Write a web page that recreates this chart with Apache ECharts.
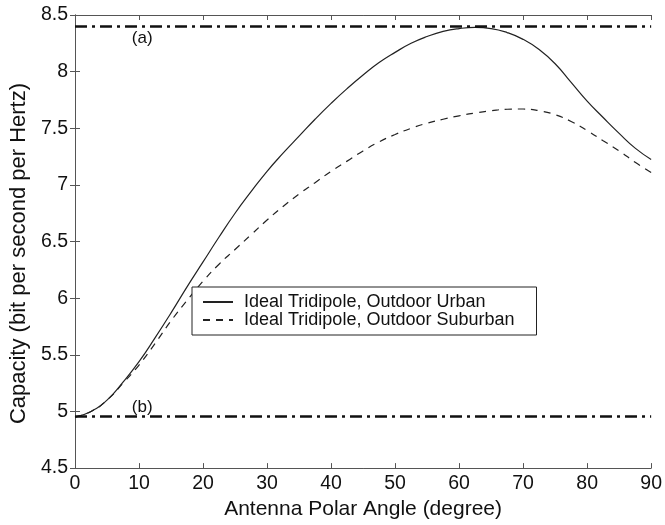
<!DOCTYPE html>
<html>
<head>
<meta charset="utf-8">
<script src="https://cdn.jsdelivr.net/npm/echarts@6/dist/echarts.min.js"></script>
<style>
  html, body { margin: 0; padding: 0; background: #fff; }
</style>
</head>
<body>
<div id="chart" style="width: 665px; height: 525px"></div>
<script>
// antenna polar angle (degree)
const angles = [0, 2.5, 5, 7.5, 10, 12.5, 15, 17.5, 20, 22.5, 25, 27.5, 30, 32.5, 35, 37.5, 40, 42.5, 45,
  47.5, 50, 52.5, 55, 57.5, 60, 62.5, 65, 67.5, 70, 72.5, 75, 77.5, 80, 82.5, 85, 87.5, 90]
// capacity
const urban = [4.95, 5.00, 5.10, 5.26, 5.44, 5.65, 5.87, 6.10, 6.32, 6.54, 6.75, 6.94, 7.12, 7.28, 7.43, 7.58, 7.72, 7.85, 7.97,
  8.08, 8.17, 8.25, 8.31, 8.355, 8.38, 8.39, 8.38, 8.345, 8.285, 8.195, 8.07, 7.905, 7.74, 7.595, 7.455, 7.325, 7.225]
const suburban = [4.95, 5.00, 5.10, 5.25, 5.41, 5.60, 5.80, 5.98, 6.15, 6.30, 6.43, 6.56, 6.69, 6.81, 6.92, 7.02, 7.12, 7.21, 7.30,
  7.38, 7.445, 7.50, 7.545, 7.58, 7.61, 7.635, 7.655, 7.668, 7.67, 7.655, 7.62, 7.56, 7.48, 7.39, 7.30, 7.20, 7.11]
// reference bounds (a) and (b)
const boundNames = ['(a)', '(b)']
const boundValues = [8.4, 4.955]
const boundLabelAngle = 10.5

const font = 'Liberation Sans, Arial, Helvetica, sans-serif'
const axisColor = '#555'
const lineColor = '#222'

const pairs = (ys) => angles.map((x, i) => [x, ys[i]])

const chart = echarts.init(document.getElementById('chart'))
const option = {
  animation: false,
  grid: { left: 73.5, right: 11, top: 15, bottom: 53 },
  legend: {
    orient: 'vertical',
    left: 192,
    top: 287,
    padding: [6, 22, 6, 10],
    itemGap: 0,
    itemWidth: 30,
    itemHeight: 10,
    itemStyle: { opacity: 0 },
    borderColor: '#222',
    borderWidth: 1,
    backgroundColor: '#fff',
    textStyle: { fontFamily: font, fontSize: 18, lineHeight: 16, color: '#111', padding: [0, 0, 0, 6] },
    data: ['Ideal Tridipole, Outdoor Urban', 'Ideal Tridipole, Outdoor Suburban']
  },
  xAxis: [
    {
      type: 'value',
      min: 0,
      max: 90,
      interval: 10,
      name: 'Antenna Polar Angle (degree)',
      nameLocation: 'middle',
      nameGap: 29,
      nameTextStyle: { fontFamily: font, fontSize: 21, color: '#111' },
      axisLine: { lineStyle: { color: axisColor } },
      axisTick: { inside: true, length: 5, lineStyle: { color: axisColor } },
      axisLabel: { fontFamily: font, fontSize: 19.5, color: '#111', margin: 6 },
      splitLine: { show: false }
    },
    {
      type: 'value',
      position: 'top',
      min: 0,
      max: 90,
      interval: 10,
      axisLine: { show: true, lineStyle: { color: axisColor } },
      axisTick: { inside: true, length: 5, lineStyle: { color: axisColor } },
      axisLabel: { show: false },
      splitLine: { show: false }
    }
  ],
  yAxis: [
    {
      type: 'value',
      min: 4.5,
      max: 8.5,
      interval: 0.5,
      name: 'Capacity (bit per second per Hertz)',
      nameLocation: 'middle',
      nameGap: 37,
      nameTextStyle: { fontFamily: font, fontSize: 22, color: '#111', padding: [0, 24, 0, 0] },
      axisLine: { show: true, lineStyle: { color: axisColor } },
      axisTick: { show: true, inside: true, length: 5, lineStyle: { color: axisColor } },
      axisLabel: { fontFamily: font, fontSize: 19.5, color: '#111', margin: 7 },
      splitLine: { show: false }
    },
    {
      type: 'value',
      position: 'right',
      min: 4.5,
      max: 8.5,
      interval: 0.5,
      axisLine: { show: true, lineStyle: { color: axisColor } },
      axisTick: { show: true, inside: true, length: 5, lineStyle: { color: axisColor } },
      axisLabel: { show: false },
      splitLine: { show: false }
    }
  ],
  series: [
    {
      name: 'Ideal Tridipole, Outdoor Urban',
      type: 'line',
      smooth: 0.5,
      symbol: 'none',
      lineStyle: { color: lineColor, width: 1.2, type: 'solid' },
      itemStyle: { color: lineColor },
      data: pairs(urban)
    },
    {
      name: 'Ideal Tridipole, Outdoor Suburban',
      type: 'line',
      smooth: 0.5,
      symbol: 'none',
      lineStyle: { color: lineColor, width: 1.2, type: [7, 6] },
      itemStyle: { color: lineColor },
      data: pairs(suburban)
    },
    {
      name: 'bounds',
      type: 'line',
      data: [],
      markLine: {
        silent: true,
        symbol: 'none',
        lineStyle: { color: '#111', width: 2.5, type: [12, 5, 3, 5] },
        label: { show: false },
        data: boundValues.map((v) => ({ yAxis: v }))
      },
      markPoint: {
        symbol: 'circle',
        symbolSize: 0,
        label: {
          show: true,
          fontFamily: font,
          fontSize: 17,
          color: '#111',
          formatter: (p) => p.name
        },
        data: boundNames.map((n, i) => ({
          name: n,
          coord: [boundLabelAngle, boundValues[i]],
          label: { offset: [0, i === 0 ? 12 : -9] }
        }))
      }
    }
  ]
}
chart.setOption(option)
</script>
</body>
</html>
